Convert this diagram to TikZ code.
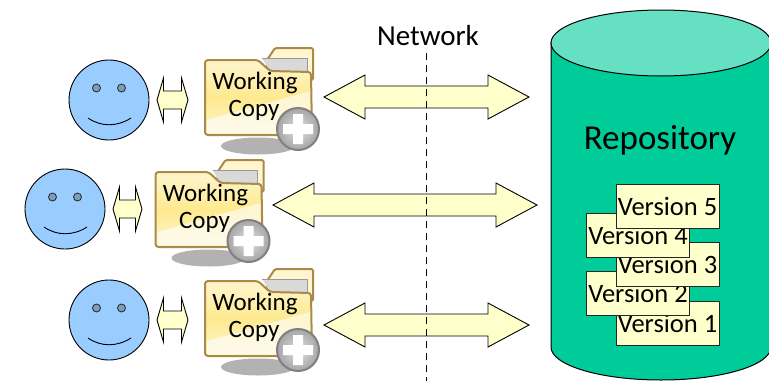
\documentclass[tikz,border=0pt]{standalone}
\usepackage{fontspec}
\setmainfont{Carlito}
\usetikzlibrary{shapes.geometric}
\definecolor{cream}{HTML}{FFFFCC}
\definecolor{facefill}{HTML}{99CCFF}
\definecolor{eyefill}{HTML}{7F9DB9}
\definecolor{repobody}{HTML}{00CC99}
\definecolor{repotop}{HTML}{66E0C2}
\definecolor{folderedge}{HTML}{A98A48}
\definecolor{folderlight}{HTML}{FFF6CF}
\definecolor{foldermid}{HTML}{FDE98F}
\tikzset{
  x=1pt,y=-1pt,
  arrowshape/.style={draw=black,fill=cream,line width=.9pt,line join=miter},
  facecircle/.style={circle,draw=black,fill=facefill,line width=.9pt,minimum size=80pt,inner sep=0pt},
  eye/.style={circle,draw=black!85,fill=eyefill,line width=.8pt,minimum size=8pt,inner sep=0pt},
  versionbox/.style={draw=black!85,fill=cream,line width=.9pt,minimum width=103pt,minimum height=44pt,inner sep=0pt,font=\fontsize{26.5}{26.5}\selectfont},
  foldertext/.style={inner sep=0pt,font=\fontsize{25}{25}\selectfont},
}
% \dblarrow{left}{right}{y}{head length}{half shaft}{half head}
\newcommand{\dblarrow}[6]{%
  \draw[arrowshape] (#1,#3) -- ({#1+#4},{#3-#6}) -- ({#1+#4},{#3-#5}) -- ({#2-#4},{#3-#5}) -- ({#2-#4},{#3-#6})
    -- (#2,#3) -- ({#2-#4},{#3+#6}) -- ({#2-#4},{#3+#5}) -- ({#1+#4},{#3+#5}) -- ({#1+#4},{#3+#6}) -- cycle;}
% \smiley{name}{cx}{cy}
\newcommand{\smiley}[3]{%
  \node[facecircle] (#1) at (#2,#3) {};
  \node[eye] (#1l) at ({#2-12.5},{#3-12}) {};
  \node[eye] (#1r) at ({#2+12.5},{#3-12}) {};
  \draw[black,line width=.9pt] ({#2-21},{#3+18}) .. controls ({#2-8},{#3+27}) and ({#2+8},{#3+27}) .. ({#2+22},{#3+18});}
% \folder{name}{dx}{dy}
\newcommand{\folder}[3]{%
  \begin{scope}[shift={(#2pt,{-(#3pt)})}]
    \fill[black!30] (258,146) ellipse [x radius=37,y radius=8.5];
    \draw[folderedge,fill=folderlight,line width=2pt,rounded corners=1.5pt] (267,60) -- (275,48) -- (313,48) -- (313,80) -- (267,80) -- cycle;
    \fill[black!15] (262,58) -- (307,58) -- (307,71) -- (270,71) -- cycle;
    \draw[black!40,line width=.8pt] (262,58) -- (307,58) -- (307,71);
    \draw[folderedge,line width=2pt,rounded corners=3pt,top color=folderlight,bottom color=folderlight,middle color=foldermid]
      (205,135) -- (205,60) -- (258,60) -- (270,71) -- (311,72) -- (312,135) -- cycle;
    \fill[white,opacity=.6] (207,120) -- (310,91) -- (310,133) -- (207,133) -- cycle;
    \node[foldertext] (#1a) at (255,83) {Working};
    \node[foldertext] (#1b) at (254,110) {Copy};
    \node[circle,draw=black!50,line width=2pt,inner color=black!12,outer color=black!35,minimum size=42pt,inner sep=0pt] (#1p) at (298,129) {};
    \fill[white] (293,114) rectangle (303,144) (283,124) rectangle (313,134);
  \end{scope}}
\begin{document}
\begin{tikzpicture}
\useasboundingbox (0,0) rectangle (769,381);
\clip (0,0) rectangle (769,381);
% repository
\draw[fill=repobody,draw=black,line width=1pt] (551,42) -- (551,347) arc [start angle=180,end angle=360,x radius=110,y radius=-33] -- (771,42) -- cycle;
\draw[fill=repotop,draw=black,line width=1pt] (661,43) ellipse [x radius=110,y radius=33];
\node[inner sep=0pt,font=\fontsize{35}{35}\selectfont] (repo) at (660,140) {Repository};
\node[versionbox] (v1) at (667.5,323) {Version 1};
\node[versionbox] (v2) at (638,293) {Version 2};
\node[versionbox] (v3) at (667.5,264) {Version 3};
\node[versionbox] (v4) at (638,235) {Version 4};
\node[versionbox] (v5) at (667.5,206) {Version 5};
% faces
\smiley{faceA}{109}{100}
\smiley{faceB}{65}{209}
\smiley{faceC}{109}{320}
% small arrows
\dblarrow{157}{188}{100}{6.5}{9}{22}
\dblarrow{113}{142}{209}{6.5}{9}{22}
\dblarrow{157}{188}{320}{6.5}{9}{22}
% folders
\folder{wcA}{0}{0}
\folder{wcB}{-49.5}{112}
\folder{wcC}{0}{221}
% big arrows
\dblarrow{324}{529}{97}{41}{11}{22}
\dblarrow{273}{537}{205}{41}{11}{22}
\dblarrow{324}{529}{325}{41}{11}{22}
% network
\coordinate (netTop) at (426.5,53);
\coordinate (netBot) at (426.5,381);
\draw[black,line width=1.3pt,dash pattern=on 7pt off 5pt] (netTop) -- (netBot);
\node[inner sep=0pt,font=\fontsize{29}{29}\selectfont] (net) at (428,36) {Network};
\end{tikzpicture}
\end{document}
